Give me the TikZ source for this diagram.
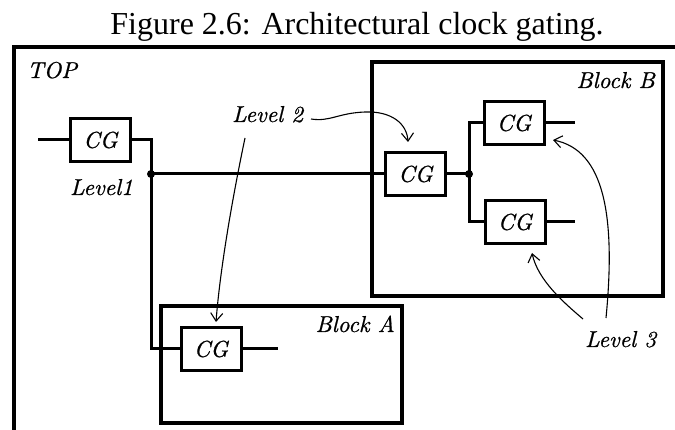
\documentclass[tikz,border=0pt]{standalone}
\usepackage{fontspec}
\newfontfamily\titlefont{Liberation Serif}
\newfontfamily\labfont{lmroman10-italic}[Extension=.otf, FakeBold=0.8]
\usetikzlibrary{arrows.meta,fit}
\newcommand\lablfont{\labfont\fontsize{23}{27}\selectfont}
\begin{document}
\begin{tikzpicture}[x=1pt,y=-1pt,
  wire/.style={line width=3pt},
  cgbox/.style={draw, line width=3pt, minimum width=60pt, minimum height=43pt, inner sep=0pt, font=\lablfont},
  blk/.style={draw, line width=3.5pt, inner sep=0pt},
  lbl/.style={inner sep=0pt, font=\lablfont},
  ptr/.style={line width=1.1pt, -{Straight Barb[length=8pt,width=12pt]}},
  jdot/.style={circle, fill, inner sep=0pt, minimum size=8pt}]
\useasboundingbox (0,0) rectangle (675,430);
% title
\node[anchor=base, inner sep=0pt, font=\titlefont\fontsize{32}{36}\selectfont] (title) at (357,35) {Figure 2.6: Architectural clock gating.};
% TOP frame
\draw[line width=3.5pt] (14,430) -- (14,47) -- (675,47);
\node[lbl, anchor=base west] (top) at (27,78) {TOP};
% blocks
\node[blk, fit={(372,62) (663,296)}] (blockB) {};
\node[blk, fit={(161,306) (402,423)}] (blockA) {};
\node[lbl, anchor=base east] (lbB) at (655,88) {Block B};
\node[lbl, anchor=base east] (lbA) at (395,332) {Block A};
% clock gates
\node[cgbox] (cg1) at (100.5,140) {CG};
\node[cgbox] (cg2) at (415.5,174) {CG};
\node[cgbox] (cg3) at (514,123) {CG};
\node[cgbox] (cg4) at (515,222) {CG};
\node[cgbox] (cg5) at (211,349) {CG};
\node[jdot] (j1) at (151,174) {};
\node[jdot] (j2) at (469,174) {};
\coordinate (i1) at (38,140);
\coordinate (o3) at (575,123);
\coordinate (o4) at (575,222);
\coordinate (o5) at (278,349);
% wires
\draw[wire] (i1) -- (cg1.west);
\draw[wire] (cg1.east) -| (j1.center) |- (cg5.west);
\draw[wire] (j1.center) -- (cg2.west);
\draw[wire] (cg2.east) -- (j2.center);
\draw[wire] (cg3.west) -| (j2.center) |- (cg4.west);
\draw[wire] (cg3.east) -- (o3);
\draw[wire] (cg4.east) -- (o4);
\draw[wire] (cg5.east) -- (o5);
% labels
\node[lbl, anchor=base west] (lv1) at (70,195) {Level1};
\node[lbl, anchor=base west] (lv2) at (232,122) {Level 2};
\node[lbl, anchor=base west] (lv3) at (585,347) {Level 3};
% pointers
\coordinate (s2) at (311,119);
\coordinate (s5) at (245,138);
\coordinate (s3) at (606,318);
\coordinate (s4) at (583,319);
\draw[ptr] (s2) .. controls (330,122) and (338,113) .. (365,112) .. controls (392,111) and (407,124) .. ([xshift=-7.5pt,yshift=9pt]cg2.north);
\draw[ptr] (s5) .. controls (232,200) and (220,270) .. ([xshift=5pt,yshift=4pt]cg5.north);
\draw[ptr] (s3) .. controls (616,215) and (604,150) .. ([xshift=7.5pt,yshift=6pt]cg3.south east);
\draw[ptr] (s4) .. controls (563,302) and (538,280) .. ([xshift=17pt,yshift=-8pt]cg4.south);
\end{tikzpicture}
\end{document}
